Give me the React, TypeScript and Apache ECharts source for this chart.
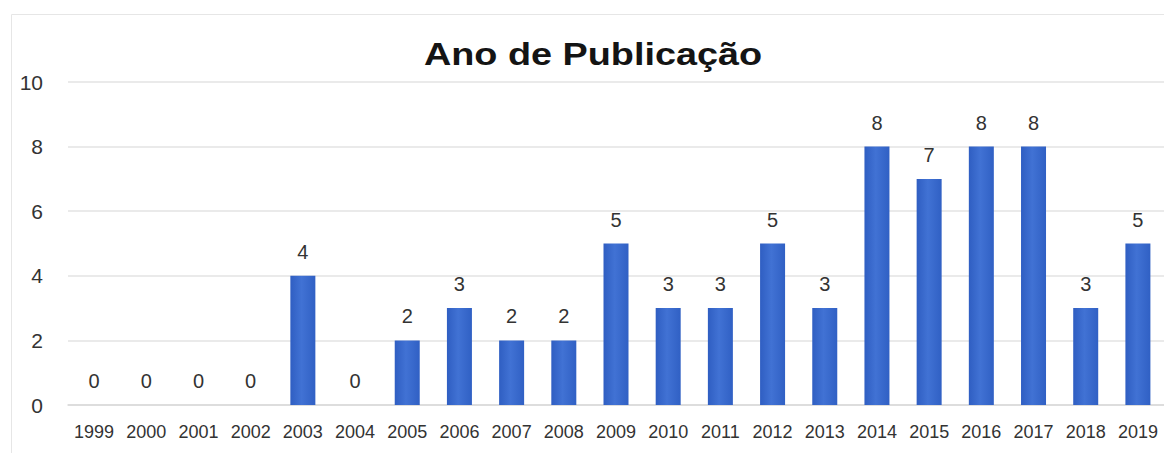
import React, { useEffect, useRef } from "react";
import * as echarts from "echarts";

const titleText = "Ano de Publicação";
const years = [
  "1999", "2000", "2001", "2002", "2003", "2004", "2005", "2006", "2007", "2008",
  "2009", "2010", "2011", "2012", "2013", "2014", "2015", "2016", "2017", "2018", "2019",
];
const counts = [0, 0, 0, 0, 4, 0, 2, 3, 2, 2, 5, 3, 3, 5, 3, 8, 7, 8, 8, 3, 5];
const yMin = 0;
const yMax = 10;
const yStep = 2;

const FONT = "'Liberation Sans', Arial, sans-serif";

export default function App() {
  const ref = useRef<HTMLDivElement>(null);

  useEffect(() => {
    document.body.style.margin = "0";
    if (!ref.current) return;
    const chart = echarts.init(ref.current, undefined, { renderer: "svg" });
    chart.setOption({
      animation: false,
      backgroundColor: "#ffffff",
      graphic: [
        {
          type: "rect",
          shape: { x: 11.5, y: 14.5, width: 1200, height: 500 },
          style: { fill: "none", stroke: "#e6e6e6", lineWidth: 1 },
          silent: true,
        },
        {
          type: "text",
          x: 593,
          y: 54,
          scaleX: 1.22,
          style: {
            text: titleText,
            fontSize: 31,
            fontWeight: "bold",
            fontFamily: FONT,
            fill: "#141414",
            textAlign: "center",
            textVerticalAlign: "middle",
          },
        },
      ],
      grid: { left: 68, right: 0, top: 82, bottom: 48, containLabel: false },
      xAxis: {
        type: "category",
        data: years,
        axisLine: { show: true, lineStyle: { color: "#d9d9d9", width: 1.5 } },
        axisTick: { show: false },
        axisLabel: {
          interval: 0,
          margin: 18,
          fontSize: 18,
          fontFamily: FONT,
          color: "#333333",
        },
      },
      yAxis: {
        type: "value",
        min: yMin,
        max: yMax,
        interval: yStep,
        axisLine: { show: false },
        axisTick: { show: false },
        splitLine: { show: true, lineStyle: { color: "#e3e3e3", width: 1.5 } },
        axisLabel: {
          margin: 25,
          fontSize: 21,
          fontFamily: FONT,
          color: "#333333",
        },
      },
      series: [
        {
          type: "bar",
          data: counts,
          barWidth: 25,
          itemStyle: {
            color: new echarts.graphic.LinearGradient(0, 0, 1, 0, [
              { offset: 0, color: "#2f5ec2" },
              { offset: 0.45, color: "#4172d4" },
              { offset: 1, color: "#3060c4" },
            ]),
          },
          label: {
            show: true,
            position: "top",
            distance: 14,
            fontSize: 20,
            fontFamily: FONT,
            color: "#333333",
          },
        },
      ],
    });
    return () => chart.dispose();
  }, []);

  return (
    <div
      ref={ref}
      style={{ width: 1164, height: 453, position: "absolute", left: 0, top: 0 }}
    />
  );
}
